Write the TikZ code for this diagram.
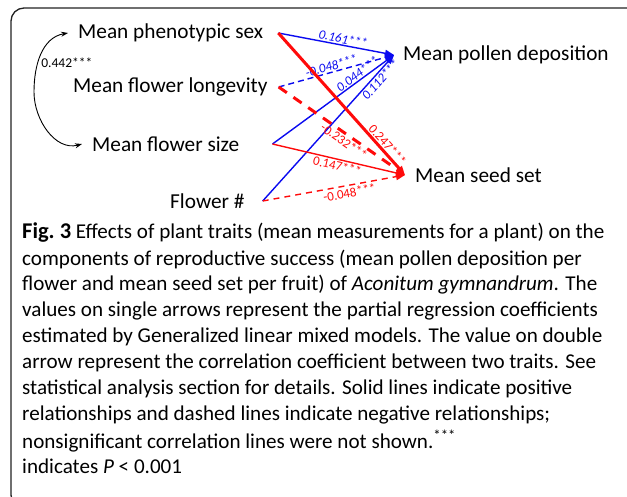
\documentclass[tikz,border=0pt]{standalone}
\usepackage{fontspec}
\setmainfont{Carlito}
\newfontfamily\capfont{Carlito}
\usetikzlibrary{arrows.meta,positioning,calc}
\definecolor{PathBlue}{HTML}{0A0AF0}
\definecolor{PathRed}{HTML}{FF0A0A}
\definecolor{FrameInk}{HTML}{222222}

\begin{document}
\begin{tikzpicture}[x=1pt,y=-1pt,
    trait/.style={inner sep=0pt, anchor=west, font=\fontsize{21.3}{24}\selectfont},
    coef/.style={sloped, inner sep=1pt, font=\fontsize{13}{14}\selectfont},
    toPollen/.style={PathBlue, line width=1.4pt, -{Triangle[length=9pt,width=7pt]}},
    toSeed/.style={PathRed, line width=1.4pt, -{Triangle[length=9pt,width=7pt]}},
    capline/.style={anchor=west, inner sep=0pt, font=\capfont\fontsize{21.1}{24}\selectfont}]
    \useasboundingbox (0,0) rectangle (627,496);
    \clip (0,0) rectangle (627,496);
    \draw[FrameInk, line width=1.3pt, rounded corners=13pt] (11,8) rectangle (640,508);

    % Plant traits
    \node[trait] (sex) at (78,33) {Mean phenotypic sex};
    \node[trait] (long) at (73,87) {Mean flower longevity};
    \node[trait] (size) at (92,144) {Mean flower size};
    \node[trait] (num) at (170,201) {Flower \#};

    % Reproductive success
    \node[trait] (pollen) at (403,55) {Mean pollen deposition};
    \node[trait] (seed) at (415,175) {Mean seed set};

    % Correlation between traits
    \draw[{Stealth[length=7pt,width=5pt]}-{Stealth[length=7pt,width=5pt]}, line width=0.9pt]
      ([xshift=-10pt]sex.west) to[out=190,in=90] node[pos=0.62, right, inner sep=3pt, font=\fontsize{13.5}{15}\selectfont] {0.442***}
      (34,92) to[out=270,in=195] ([xshift=-10pt]size.west);

    % Effects on pollen deposition
    \draw[toPollen] ([xshift=15pt]sex.east) -- node[coef, above, pos=0.55] {\itshape 0.161***} ([xshift=-9pt]pollen.west);
    \draw[toPollen, dash pattern=on 6pt off 4pt] ([xshift=11pt]long.east) -- node[coef, above, pos=0.47] {\itshape -0.048***} ([xshift=-9pt]pollen.west);
    \draw[toPollen] ([xshift=33pt]size.east) -- node[coef, above, pos=0.73] {\itshape 0.044***} ([xshift=-9pt]pollen.west);
    \draw[toPollen] ([xshift=18pt]num.east) -- node[coef, below, pos=0.86] {\itshape 0.112***} ([xshift=-9pt]pollen.west);

    % Effects on seed set
    \draw[toSeed, line width=3pt] ([xshift=15pt]sex.east) -- node[coef, above, pos=0.82] {0.247***} ([xshift=-10pt]seed.west);
    \draw[toSeed, line width=3pt, dash pattern=on 10pt off 8pt] ([xshift=11pt]long.east) -- node[coef, below, pos=0.55] {-0.232***} ([xshift=-10pt]seed.west);
    \draw[toSeed] ([xshift=33pt]size.east) -- node[coef, below, pos=0.5] {0.147***} ([xshift=-10pt]seed.west);
    \draw[toSeed, dash pattern=on 6pt off 5pt] ([xshift=18pt]num.east) -- node[coef, below, pos=0.6, inner sep=2pt] {-0.048***} ([xshift=-10pt]seed.west);

    % Caption
    \node[capline] (cap1) at (22,233) {{\bfseries\fontsize{22.5}{25}\selectfont Fig.\ 3} Effects of plant traits (mean measurements for a plant) on the};
    \node[capline] (cap2) at (22,259) {components of reproductive success (mean pollen deposition per};
    \node[capline] (cap3) at (22,285) {flower and mean seed set per fruit) of \textit{Aconitum gymnandrum}. The};
    \node[capline] (cap4) at (22,311) {values on single arrows represent the partial regression coefficients};
    \node[capline] (cap5) at (22,337) {estimated by Generalized linear mixed models. The value on double};
    \node[capline] (cap6) at (22,363) {arrow represent the correlation coefficient between two traits. See};
    \node[capline] (cap7) at (22,389) {statistical analysis section for details. Solid lines indicate positive};
    \node[capline] (cap8) at (22,415) {relationships and dashed lines indicate negative relationships;};
    \node[capline] (cap9) at (22,441) {nonsignificant correlation lines were not shown.\textsuperscript{***}};
    \node[capline] (cap10) at (22,466) {indicates \textit{P} < 0.001};
\end{tikzpicture}
\end{document}
